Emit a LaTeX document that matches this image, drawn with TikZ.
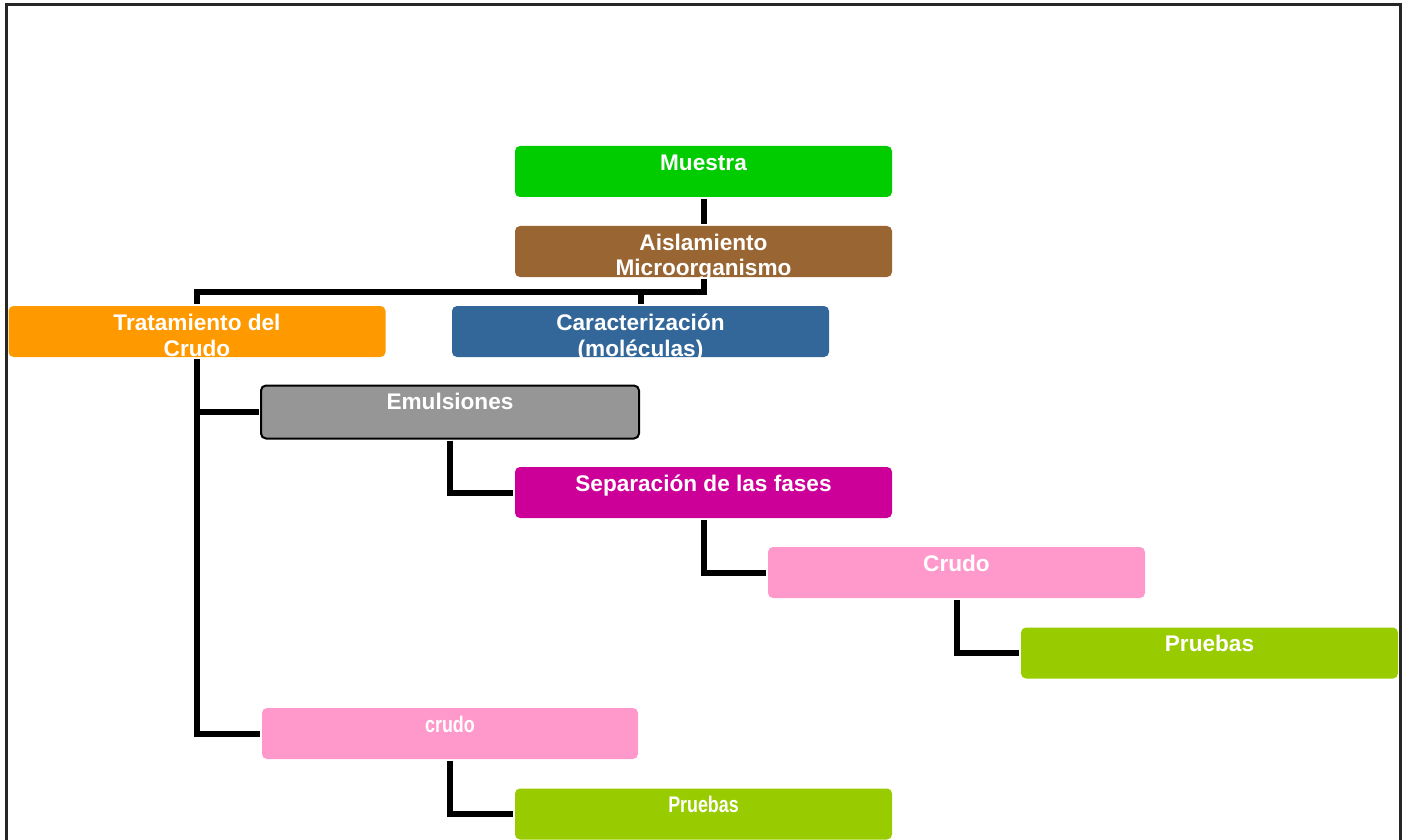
\documentclass[tikz,border=0pt]{standalone}
\usepackage{fontspec}
\setmainfont{Liberation Sans}
\usepackage{graphicx}
\definecolor{cgreen}{HTML}{00CC00}
\definecolor{cbrown}{HTML}{996633}
\definecolor{corange}{HTML}{FF9900}
\definecolor{cblue}{HTML}{336699}
\definecolor{cgray}{HTML}{969696}
\definecolor{cmagenta}{HTML}{CC0099}
\definecolor{cpink}{HTML}{FF99CC}
\definecolor{clime}{HTML}{99CC00}
\newcommand{\boxtext}[3]{\parbox[c][#2][t]{#1}{\centering\rule{0pt}{12pt}#3}}
\begin{document}
\begin{tikzpicture}[x=0.5pt,y=-0.5pt,
  box/.style={rounded corners=2.5pt, inner sep=0pt, outer sep=1pt, text=white,
    font=\fontsize{11.3}{13}\selectfont\bfseries},
  conn/.style={line width=3pt, black},
  frame/.style={line width=1.5pt, black!85}]
\useasboundingbox (0,0) rectangle (1410,840);
\draw[frame] (6.5,845) -- (6.5,4.5) -- (1400,4.5) -- (1400,845);

\node[box, fill=cgreen] (mu) at (703.5,171.5) {\boxtext{188.5pt}{25.5pt}{Muestra}};
\node[box, fill=cbrown] (ai) at (703.5,251.5) {\boxtext{188.5pt}{25.5pt}{Aislamiento\\Microorganismo}};
\node[box, fill=corange] (tr) at (197,331.5) {\boxtext{188.5pt}{25.5pt}{Tratamiento del\\Crudo}};
\node[box, fill=cblue] (ca) at (640.5,331.5) {\boxtext{188.5pt}{25.5pt}{Caracterización\\(moléculas)}};
\node[box, fill=cgray, draw=black, line width=1pt] (em) at (450,412) {\boxtext{189pt}{26.5pt}{Emulsiones}};
\node[box, fill=cmagenta] (se) at (703.5,492.5) {\boxtext{188.5pt}{25.5pt}{Separación de las fases}};
\node[box, fill=cpink] (cr) at (956.5,572.5) {\boxtext{188.5pt}{25.5pt}{Crudo}};
\node[box, fill=clime] (pa) at (1209.5,653) {\boxtext{188.5pt}{25.5pt}{Pruebas}};
\node[box, fill=cpink] (cb) at (450,733.5) {\boxtext{188pt}{25.5pt}{\scalebox{0.79}[1]{crudo}}};
\node[box, fill=clime] (pb) at (703.5,814) {\boxtext{188.5pt}{25.5pt}{\scalebox{0.79}[1]{Pruebas}}};

\coordinate (j1) at (703.5,292);
\draw[conn] (mu.south) -- (ai.north);
\draw[conn] (ai.south) -- (j1) -| (tr.north);
\draw[conn] (j1) -| (ca.north);
\draw[conn] (tr.south) |- (em.west);
\draw[conn] (tr.south) |- (cb.west);
\draw[conn] (em.south) |- (se.west);
\draw[conn] (se.south) |- (cr.west);
\draw[conn] (cr.south) |- (pa.west);
\draw[conn] (cb.south) |- (pb.west);
\end{tikzpicture}
\end{document}
